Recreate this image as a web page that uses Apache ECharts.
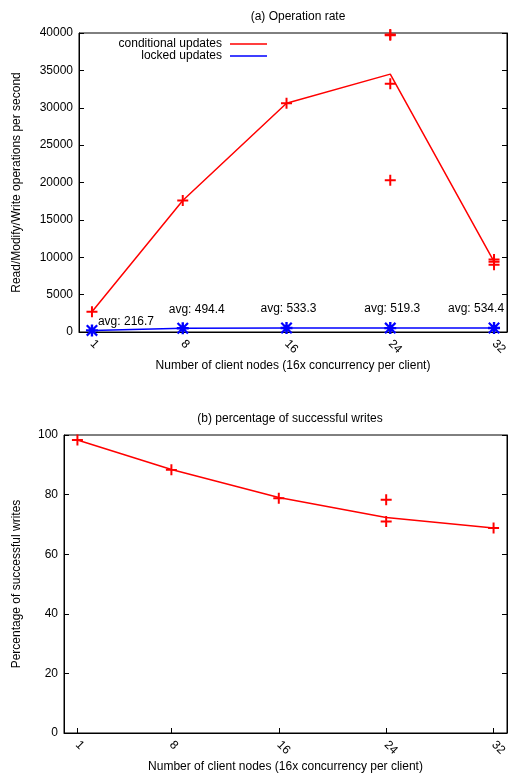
<!DOCTYPE html>
<html><head><meta charset="utf-8">
<script src="https://cdn.jsdelivr.net/npm/echarts@6/dist/echarts.min.js"></script>
<style>html,body{margin:0;padding:0;background:#fff}#c{width:510px;height:774px}</style>
</head><body><div id="c"></div>
<script>
// ---- data ----
const xTicks = [1, 8, 16, 24, 32];
// (a) operation rate: individual runs of conditional updates
const condRunsX = [1, 8, 16, 24, 24, 24, 24, 32, 32, 32];
const condRunsY = [2700, 17600, 30600, 39800, 39700, 33200, 20300, 9700, 9400, 9000];
// (a) line through the mean of conditional updates
const condMean = [2700, 17600, 30600, 34500, 9400];
// (a) locked updates averages
const lockedAvg = [216.7, 494.4, 533.3, 519.3, 534.4];
// (b) percentage of successful writes: runs and mean
const succRunsX = [1, 8, 16, 24, 24, 32];
const succRunsY = [98.3, 88.3, 78.8, 78.3, 71.0, 68.8];
const succMean = [98.3, 88.4, 79.0, 72.3, 68.8];

// ---- styles ----
const avgLabelOffsets = [[34, -9], [14, -19], [2, -19], [2, -19], [-18, -19]];
const FONT = 'Liberation Sans, Arial, Helvetica, sans-serif';
const RED = '#ff0000', BLUE = '#0000ff';
const PLUS = 'path://M4.1,0H5.9V4.1H10V5.9H5.9V10H4.1V5.9H0V4.1H4.1Z';
const STAR = 'path://M4,0H6V4H10V6H6V10H4V6H0V4H4Z' +
  'M0,1.3L1.3,0L10,8.7L8.7,10Z' + 'M8.7,0L10,1.3L1.3,10L0,8.7Z';
const LEGEND_LINE = 'path://M0,0L0.01,0L0,0.01ZM0,5.3H37V6.7H0ZM37,12L36.99,12L37,11.99Z';

const zip = (xs, ys) => xs.map((x, i) => [x, ys[i]]);

const chart = echarts.init(document.getElementById('c'), null, {renderer: 'canvas'});

function xAxisDef(gridIndex) {
  return {
    type: 'value', gridIndex, min: 0, max: 33,
    axisLine: {show: true, onZero: false, lineStyle: {color: '#000', width: 1}},
    axisTick: {show: true, inside: true, length: 5, customValues: xTicks, lineStyle: {color: '#000'}},
    axisLabel: {show: true, customValues: xTicks, rotate: -45, margin: 10, color: '#000', fontSize: 12, fontFamily: FONT},
    splitLine: {show: false},
    name: 'Number of client nodes (16x concurrency per client)',
    nameLocation: 'middle', nameGap: 28,
    nameTextStyle: {color: '#000', fontSize: 12, fontFamily: FONT}
  };
}
function yAxisDef(gridIndex, max, interval, name, nameGap) {
  return {
    type: 'value', gridIndex, min: 0, max, interval, position: 'left',
    axisLine: {show: true, lineStyle: {color: '#000', width: 1}},
    axisTick: {show: true, inside: true, length: 5, lineStyle: {color: '#000'}},
    axisLabel: {show: true, margin: 6, color: '#000', fontSize: 12, fontFamily: FONT, formatter: v => String(v)},
    splitLine: {show: false},
    name, nameLocation: 'middle', nameGap,
    nameTextStyle: {color: '#000', fontSize: 12, fontFamily: FONT}
  };
}
function yMirror(gridIndex, max, interval) {
  return {
    type: 'value', gridIndex, min: 0, max, interval, position: 'right',
    axisLine: {show: true, lineStyle: {color: '#000', width: 1}},
    axisTick: {show: true, inside: true, length: 5, lineStyle: {color: '#000'}},
    axisLabel: {show: false}, splitLine: {show: false}
  };
}

chart.setOption({
  animation: false,
  backgroundColor: '#fff',
  textStyle: {fontFamily: FONT},
  title: [
    {text: '(a) Operation rate', left: 293, top: 6, textAlign: 'center',
     textStyle: {fontSize: 12, fontWeight: 'normal', color: '#000', fontFamily: FONT}},
    {text: '(b) percentage of successful writes', left: 285, top: 408, textAlign: 'center',
     textStyle: {fontSize: 12, fontWeight: 'normal', color: '#000', fontFamily: FONT}}
  ],
  legend: {
    data: [{name: 'conditional updates', icon: LEGEND_LINE, itemStyle: {color: RED}},
           {name: 'locked updates', icon: LEGEND_LINE, itemStyle: {color: BLUE}}],
    orient: 'vertical', align: 'right', right: 243, top: 38, padding: 0,
    itemWidth: 37, itemHeight: 12, itemGap: 0,
    textStyle: {fontSize: 12, color: '#000', fontFamily: FONT, padding: [0, 3, 0, 0]}
  },
  grid: [
    {left: 79, top: 33, width: 428, height: 299, show: true, borderColor: '#000', borderWidth: 1, containLabel: false},
    {left: 64, top: 435, width: 443, height: 299, show: true, borderColor: '#000', borderWidth: 1, containLabel: false}
  ],
  xAxis: [xAxisDef(0), xAxisDef(1)],
  yAxis: [
    yAxisDef(0, 40000, 5000, 'Read/Modify/Write operations per second', 56),
    yMirror(0, 40000, 5000),
    yAxisDef(1, 100, 20, 'Percentage of successful writes', 41),
    yMirror(1, 100, 20)
  ],
  series: [
    {name: 'conditional updates', type: 'line', xAxisIndex: 0, yAxisIndex: 0,
     data: zip(xTicks, condMean), symbol: 'none', lineStyle: {color: RED, width: 1.5}, itemStyle: {color: RED}, z: 3},
    {name: 'conditional runs', type: 'scatter', xAxisIndex: 0, yAxisIndex: 0,
     data: zip(condRunsX, condRunsY), symbol: PLUS, symbolSize: 11, itemStyle: {color: RED, opacity: 1}, z: 4},
    {name: 'locked updates', type: 'line', xAxisIndex: 0, yAxisIndex: 0,
     data: zip(xTicks, lockedAvg), symbol: 'none', lineStyle: {color: BLUE, width: 1.5}, itemStyle: {color: BLUE}, z: 3},
    {name: 'locked points', type: 'scatter', xAxisIndex: 0, yAxisIndex: 0,
     data: zip(xTicks, lockedAvg).map((v, i) => ({value: v, label: {offset: avgLabelOffsets[i]}})),
     symbol: STAR, symbolSize: 12, itemStyle: {color: BLUE, opacity: 1}, z: 4,
     label: {show: true, position: 'inside', align: 'center', verticalAlign: 'middle', color: '#000',
             fontSize: 12, fontFamily: FONT, formatter: p => 'avg: ' + p.value[1].toFixed(1)}},
    {name: 'success mean', type: 'line', xAxisIndex: 1, yAxisIndex: 2,
     data: zip(xTicks, succMean), symbol: 'none', lineStyle: {color: RED, width: 1.5}, itemStyle: {color: RED}, z: 3},
    {name: 'success runs', type: 'scatter', xAxisIndex: 1, yAxisIndex: 2,
     data: zip(succRunsX, succRunsY), symbol: PLUS, symbolSize: 11, itemStyle: {color: RED, opacity: 1}, z: 4}
  ]
});
</script></body></html>
